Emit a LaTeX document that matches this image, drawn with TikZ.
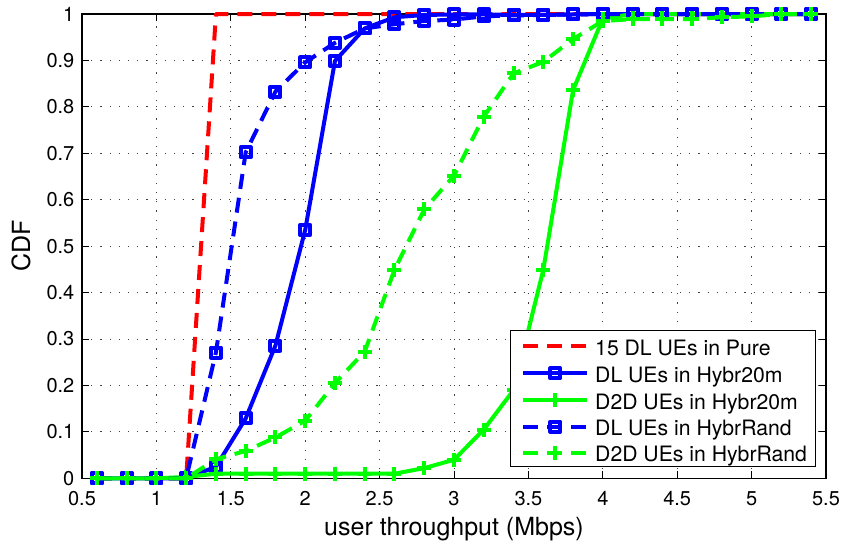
\documentclass[tikz,border=0pt]{standalone}
\usepackage{fontspec}
\setmainfont{TeX Gyre Heros}
\usetikzlibrary{plotmarks}

\begin{document}
\begin{tikzpicture}[x=148.8pt, y=464.3pt]
  \definecolor{mygreen}{HTML}{00FF00}
  \tikzstyle{every node}=[inner sep=0pt, font=\fontsize{20}{24}\selectfont]
  \tikzstyle{legend text}=[anchor=base west, font=\fontsize{21.2}{25}\selectfont]
  \tikzstyle{gridline}=[black!75, line width=0.9pt, dash pattern=on 1.2pt off 8pt]
  \tikzstyle{tickmark}=[black, line width=1pt]
  \tikzstyle{curve}=[line width=4pt, line join=round]
  \tikzstyle{pure}=[curve, red, dash pattern=on 15pt off 9pt]
  \tikzstyle{dlhyb}=[curve, blue, mark=square, mark size=5pt, mark options={solid}]
  \tikzstyle{dtdhyb}=[curve, mygreen, mark=+, mark size=7pt, mark options={solid}]
  \tikzstyle{dlrand}=[dlhyb, dash pattern=on 15pt off 9pt]
  \tikzstyle{dtdrand}=[dtdhyb, dash pattern=on 15pt off 9pt]

  \useasboundingbox (-0.0511,-0.1394) rectangle (5.6075,1.0302);

  % grid and ticks
  \foreach \x in {1,1.5,...,5} \draw[gridline] (\x,0) -- (\x,1);
  \foreach \y in {0.1,0.2,...,0.9} \draw[gridline] (0.5,\y) -- (5.5,\y);
  \foreach \x [count=\i] in {0.5,1,1.5,2,2.5,3,3.5,4,4.5,5,5.5} {
    \draw[tickmark] (\x,0) -- ++(0,7pt);
    \draw[tickmark] (\x,1) -- ++(0,-7pt);
    \node[anchor=base] (xt\i) at (\x,-0.0575) {\x};
  }
  \foreach \y [count=\i] in {0,0.1,0.2,0.3,0.4,0.5,0.6,0.7,0.8,0.9,1} {
    \draw[tickmark] (0.5,\y) -- ++(7pt,0);
    \draw[tickmark] (5.5,\y) -- ++(-7pt,0);
    \node[anchor=east] (yt\i) at (0.45,\y) {\y};
  }
  \draw[line width=1.5pt] (0.5,0) rectangle (5.5,1);

  \node[anchor=base, font=\fontsize{25}{30}\selectfont] (xlabel) at (3,-0.1221) {user throughput (Mbps)};
  \node[rotate=90, font=\fontsize{25}{30}\selectfont] (ylabel) at (0.09,0.5) {CDF};

  % curves
  \draw[pure] plot coordinates {(0.6,0) (0.8,0) (1.0,0) (1.2,0) (1.4,1) (1.6,1) (1.8,1) (2.0,1)
    (2.2,1) (2.4,1) (2.6,1) (2.8,1) (3.0,1) (3.2,1) (3.4,1) (3.6,1) (3.8,1) (4.0,1) (4.2,1)
    (4.4,1) (4.6,1) (4.8,1) (5.0,1) (5.2,1) (5.4,1)};
  \draw[dlhyb] plot coordinates {(0.6,0) (0.8,0) (1.0,0) (1.2,0) (1.4,0.025) (1.6,0.129)
    (1.8,0.286) (2.0,0.535) (2.2,0.899) (2.4,0.969) (2.6,0.993) (2.8,0.998) (3.0,0.999)
    (3.2,0.999) (3.4,0.998) (3.6,0.998) (3.8,0.999) (4.0,1) (4.2,1) (4.4,1) (4.6,1) (4.8,1)
    (5.0,1) (5.2,1) (5.4,1)};
  \draw[dtdhyb] plot coordinates {(0.6,0) (0.8,0) (1.0,0) (1.2,0.003) (1.4,0.01) (1.6,0.01)
    (1.8,0.01) (2.0,0.01) (2.2,0.01) (2.4,0.01) (2.6,0.01) (2.8,0.022) (3.0,0.04) (3.2,0.105)
    (3.4,0.19) (3.6,0.449) (3.8,0.836) (4.0,0.99) (4.2,1) (4.4,1) (4.6,1) (4.8,1) (5.0,1)
    (5.2,1) (5.4,1)};
  \draw[dlrand] plot coordinates {(0.6,0) (0.8,0) (1.0,0) (1.2,0) (1.4,0.271) (1.6,0.702)
    (1.8,0.833) (2.0,0.896) (2.2,0.938) (2.4,0.969) (2.6,0.978) (2.8,0.985) (3.0,0.988)
    (3.2,0.995) (3.4,0.997) (3.6,0.998) (3.8,0.999) (4.0,1) (4.2,1) (4.4,1) (4.6,1) (4.8,1)
    (5.0,1) (5.2,1) (5.4,1)};
  \draw[dtdrand] plot coordinates {(0.6,0) (0.8,0) (1.0,0) (1.2,0) (1.4,0.041) (1.6,0.059)
    (1.8,0.088) (2.0,0.124) (2.2,0.205) (2.4,0.273) (2.6,0.449) (2.8,0.579) (3.0,0.652)
    (3.2,0.779) (3.4,0.872) (3.6,0.897) (3.8,0.946) (4.0,0.985) (4.2,0.989) (4.4,0.989)
    (4.6,0.989) (4.8,0.993) (5.0,0.995) (5.2,1) (5.4,1)};

  % legend
  \draw[fill=white, line width=1pt] (3.381,0.025) rectangle (5.426,0.3173);
  \draw[pure] (3.466,0.2849) -- (3.896,0.2849);
  \node[legend text] (leg1) at (3.9476,0.2655) {15 DL UEs in Pure};
  \draw[dlhyb] plot[mark indices={2}] coordinates {(3.466,0.2261) (3.681,0.2261) (3.896,0.2261)};
  \node[legend text] (leg2) at (3.9476,0.2067) {DL UEs in Hybr20m};
  \draw[dtdhyb] plot[mark indices={2}] coordinates {(3.466,0.1686) (3.681,0.1686) (3.896,0.1686)};
  \node[legend text] (leg3) at (3.9476,0.1492) {D2D UEs in Hybr20m};
  \draw[dlrand] plot[mark indices={2}] coordinates {(3.466,0.1111) (3.681,0.1111) (3.896,0.1111)};
  \node[legend text] (leg4) at (3.9476,0.0917) {DL UEs in HybrRand};
  \draw[dtdrand] plot[mark indices={2}] coordinates {(3.466,0.0551) (3.681,0.0551) (3.896,0.0551)};
  \node[legend text] (leg5) at (3.9476,0.0357) {D2D UEs in HybrRand};
\end{tikzpicture}
\end{document}
